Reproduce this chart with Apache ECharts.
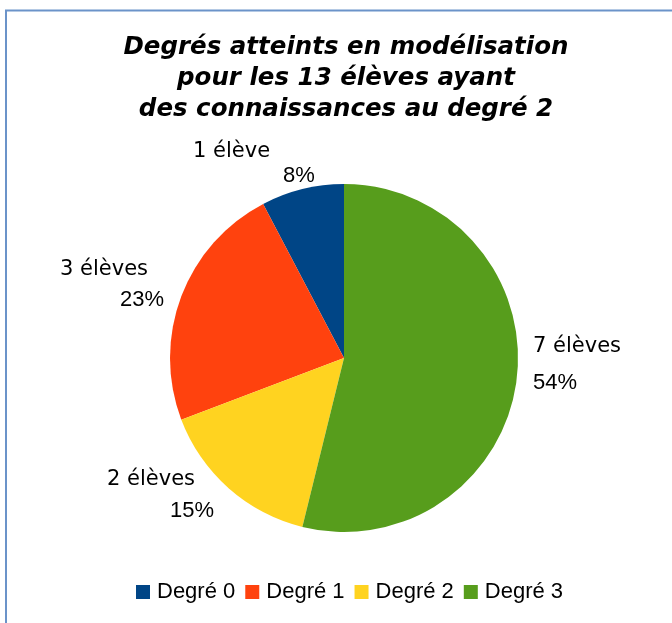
<!DOCTYPE html>
<html>
<head>
<meta charset="utf-8">
<title>Degrés atteints en modélisation</title>
<script src="https://cdn.jsdelivr.net/npm/echarts@6/dist/echarts.min.js"></script>
<style>
  html, body { margin: 0; padding: 0; background: #fff; }
  #chart { width: 672px; height: 623px; }
</style>
</head>
<body>
<div id="chart"></div>
<script>
// données du graphique
const categories = ["Degré 0", "Degré 1", "Degré 2", "Degré 3"];
const eleves = [1, 3, 2, 7];
const colors = ["#004586", "#ff420e", "#ffd320", "#579d1c"];

// position des étiquettes (coin haut-gauche), indent de la 2e ligne
const labelPos = [
  { x: 193, y: 138, indent: 90 },
  { x: 60, y: 256, indent: 60 },
  { x: 107, y: 466, indent: 63 },
  { x: 533, y: 333, indent: 0 },
];

const total = eleves.reduce((a, b) => a + b, 0);

const chart = echarts.init(document.getElementById("chart"));

const option = {
  color: colors,
  animation: false,
  title: {
    text: "Degrés atteints en modélisation\npour les 13 élèves ayant\ndes connaissances au degré 2",
    left: 341,
    top: 27,
    textAlign: "center",
    textStyle: {
      fontFamily: "DejaVu Sans",
      fontSize: 24.5,
      fontWeight: "bold",
      fontStyle: "italic",
      color: "#000",
      lineHeight: 31,
    },
  },
  legend: {
    data: categories,
    bottom: 15,
    left: 131,
    icon: "rect",
    itemWidth: 14,
    itemHeight: 14,
    itemGap: 10,
    textStyle: {
      fontFamily: "Liberation Sans",
      fontSize: 22,
      color: "#000",
      padding: [0, 0, 0, 2],
    },
  },
  graphic: [
    {
      type: "rect",
      shape: { x: 6, y: 10.5, width: 700, height: 700 },
      style: { fill: "none", stroke: "#6b93c9", lineWidth: 2 },
      silent: true,
    },
  ],
  series: [
    {
      type: "pie",
      center: [344, 358],
      radius: 174,
      startAngle: 90,
      clockwise: false,
      data: categories.map((name, i) => ({ name: name, value: eleves[i] })),
      label: {
        show: true,
        position: "outside",
        formatter: (p) => {
          const mot = p.value > 1 ? " élèves" : " élève";
          const pct = Math.round((p.value / total) * 100) + "%";
          return "{a|" + p.value + mot + "}\n{b" + p.dataIndex + "|" + pct + "}";
        },
        align: "left",
        rich: {
          a: { fontFamily: "DejaVu Sans", fontSize: 21, color: "#000", lineHeight: 28 },
          b0: { fontFamily: "Liberation Sans", fontSize: 22, color: "#000", lineHeight: 20, padding: [0, 0, 0, labelPos[0].indent] },
          b1: { fontFamily: "Liberation Sans", fontSize: 22, color: "#000", lineHeight: 32, padding: [0, 0, 0, labelPos[1].indent] },
          b2: { fontFamily: "Liberation Sans", fontSize: 22, color: "#000", lineHeight: 34, padding: [0, 0, 0, labelPos[2].indent] },
          b3: { fontFamily: "Liberation Sans", fontSize: 22, color: "#000", lineHeight: 44, padding: [0, 0, 0, labelPos[3].indent] },
        },
      },
      labelLine: { show: false },
      labelLayout: (params) => {
        const lp = labelPos[params.dataIndex];
        return { x: lp.x, y: lp.y, align: "left", verticalAlign: "top" };
      },
      emphasis: { disabled: true },
    },
  ],
};

chart.setOption(option);
</script>
</body>
</html>
